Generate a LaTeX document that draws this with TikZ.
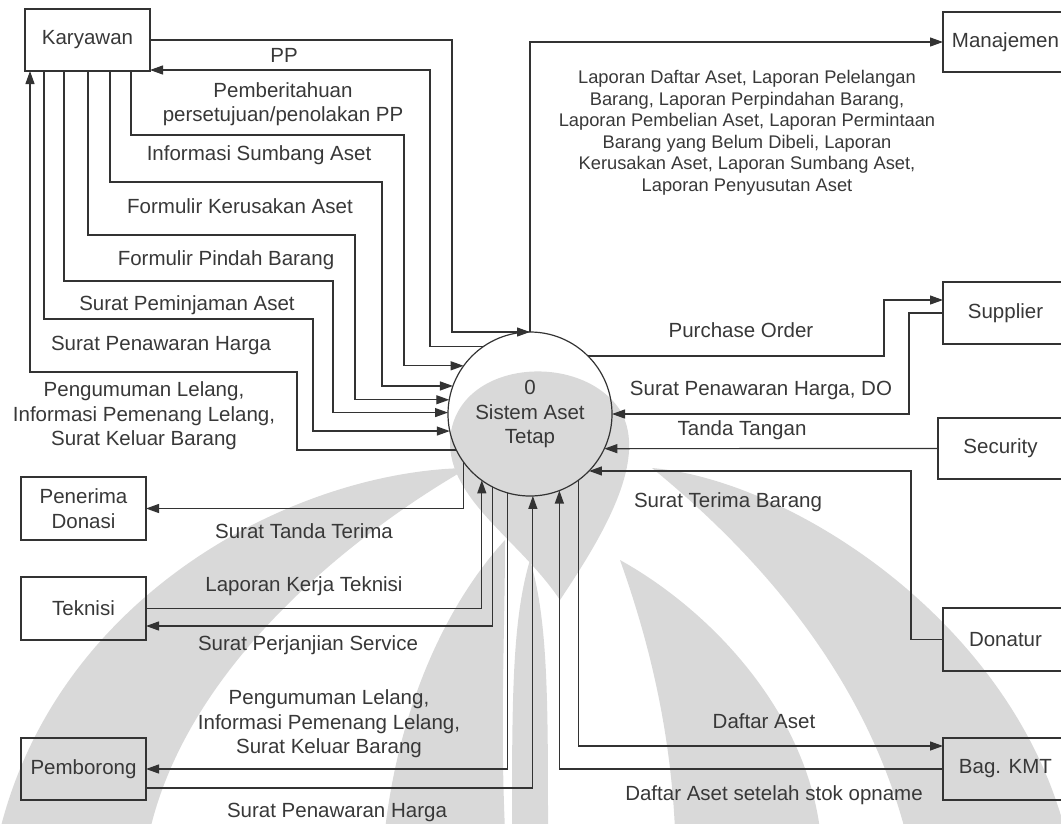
\documentclass[tikz,border=0pt]{standalone}
\usepackage{fontspec}
\setmainfont{Liberation Sans}
\usetikzlibrary{arrows.meta}
\definecolor{ink}{HTML}{333333}
\definecolor{txt}{HTML}{383838}
\definecolor{mark}{HTML}{D9D9D9}

\begin{document}
\begin{tikzpicture}[x=1pt,y=-1pt,
  every node/.style={inner sep=0pt, outer sep=0pt, text=txt},
  big/.style={font=\fontsize{20.5}{24.5}\selectfont, align=center},
  lbl/.style={big, text height=14.7pt, text depth=4.3pt},
  mlbl/.style={big},
  smalllbl/.style={font=\fontsize{18.3}{21.5}\selectfont, align=center},
  entity/.style={draw=ink, line width=1.2pt, minimum width=125pt,
    minimum height=62pt, big},
  proc/.style={circle, draw=ink, line width=1.2pt, minimum size=164pt, big},
  flow/.style={draw=ink, line width=1.2pt,
    -{Triangle[length=13pt,width=9pt]}},
  watermark/.style={fill=mark, draw=none},
]
\useasboundingbox (0,0) rectangle (1061,823);

% light background emblem
\begin{scope}
  \clip (0,0) rectangle (1061,823);
  \fill[watermark] (450,440) .. controls (455,360) and (580,350) .. (620,410)
    .. controls (650,460) and (600,540) .. (560,600)
    .. controls (520,540) and (448,500) .. (450,440) -- cycle;
  \fill[watermark] (530,560) .. controls (548,620) and (548,700) .. (548,830)
    -- (512,830) .. controls (512,700) and (512,620) .. (530,560) -- cycle;
  \fill[watermark] (468,468) .. controls (300,470) and (60,590) .. (0,830)
    -- (150,830) .. controls (190,660) and (360,530) .. (468,468) -- cycle;
  \fill[watermark] (505,540) .. controls (450,600) and (400,700) .. (385,830)
    -- (505,830) .. controls (500,720) and (505,630) .. (505,540) -- cycle;
  \fill[watermark] (652,468) .. controls (790,480) and (1010,620) .. (1065,830)
    -- (905,830) .. controls (860,660) and (740,540) .. (652,468) -- cycle;
  \fill[watermark] (620,560) .. controls (710,610) and (805,710) .. (820,830)
    -- (675,830) .. controls (670,720) and (645,630) .. (620,560) -- cycle;
\end{scope}

% external entities
\node[entity] (kar) at (87.5,40)    {Karyawan};
\node[entity, minimum height=63pt] (pen) at (83.5,508.5) {Penerima\\Donasi};
\node[entity, minimum height=63pt] (tek) at (83.5,608.5) {Teknisi};
\node[entity] (pem) at (83.5,769)   {Pemborong};
\node[entity, minimum height=60pt] (man) at (1005.5,42) {Manajemen};
\node[entity] (sup) at (1005.5,313) {Supplier};
\node[entity, minimum height=61pt] (sec) at (1000.5,448.5) {Security};
\node[entity, minimum height=63pt] (don) at (1005.5,639.5) {Donatur};
\node[entity] (kmt) at (1005.5,769) {Bag. KMT};

% the process
\node[proc] (sys) at (530,414) {0\\Sistem Aset\\Tetap};

% flows between Karyawan and the system
\draw[flow] (kar.east) -| (452,332) -- (sys.north);
\draw[flow] (sys.125.2) -| (430,70) -- ([yshift=-30pt]kar.east);
\draw[flow] ([xshift=43.5pt]kar.south) |- (404,135) |- (sys.144.2);
\draw[flow] ([xshift=22.5pt]kar.south) |- (382,182) |- (sys.160.8);
\draw[flow] ([xshift=0.5pt]kar.south) |- (355,235) |- (sys.170.9);
\draw[flow] ([xshift=-23.5pt]kar.south) |- (333,281) |- (sys.179.3);
\draw[flow] ([xshift=-43.5pt]kar.south) |- (313,319) |- (sys.192);
\draw[flow] (sys.206.8) -| (297,372) -| ([xshift=-57.5pt]kar.south);

% flows to the lower left entities
\draw[flow] (sys.216.4) |- (pen.east);
\draw[flow] (tek.east) -| (sys.234.2);
\draw[flow] (sys.243.2) |- ([yshift=-17.5pt]tek.east);
\draw[flow] (sys.254.4) |- (pem.east);
\draw[flow] ([yshift=-19pt]pem.east) -| (sys.272.1);

% flows to the right hand entities
\draw[flow] (sys.north) |- (man.west);
\draw[flow] (sys.45) -| (884,300) -- ([yshift=13pt]sup.west);
\draw[flow] (sup.west) -| (909,400) |- (sys.0.7);
\draw[flow] (sec.west) -- (sys.335.1);
\draw[flow] (don.west) -| (911,480) |- (sys.316);
\draw[flow] (sys.306.7) |- ([yshift=23pt]kmt.west);
\draw[flow] (kmt.west) -| (sys.291.5);

% flow labels
\node[lbl]  (lpp)  at (284,57)  {PP};
\node[mlbl] (lpem) at (283,104) {Pemberitahuan\\persetujuan/penolakan PP};
\node[lbl]  (linf) at (259,155) {Informasi Sumbang Aset};
\node[lbl]  (lker) at (240,208) {Formulir Kerusakan Aset};
\node[lbl]  (lpin) at (226,260) {Formulir Pindah Barang};
\node[lbl]  (lpmj) at (187,305) {Surat Peminjaman Aset};
\node[lbl]  (lpnw) at (161,345) {Surat Penawaran Harga};
\node[mlbl] (lpgk) at (144,416) {Pengumuman Lelang,\\Informasi Pemenang Lelang,\\Surat Keluar Barang};
\node[lbl]  (lstt) at (304,533) {Surat Tanda Terima};
\node[lbl]  (llkt) at (304,586) {Laporan Kerja Teknisi};
\node[lbl]  (lsps) at (308,645) {Surat Perjanjian Service};
\node[mlbl] (lpgp) at (329,724) {Pengumuman Lelang,\\Informasi Pemenang Lelang,\\Surat Keluar Barang};
\node[lbl]  (lspp) at (337,812) {Surat Penawaran Harga};
\node[smalllbl] (lman) at (747,133) {Laporan Daftar Aset, Laporan Pelelangan\\Barang, Laporan Perpindahan Barang,\\Laporan Pembelian Aset, Laporan Permintaan\\Barang yang Belum Dibeli, Laporan\\Kerusakan Aset, Laporan Sumbang Aset,\\Laporan Penyusutan Aset};
\node[lbl]  (lpo)  at (741,332) {Purchase Order};
\node[lbl]  (lspd) at (761,390) {Surat Penawaran Harga, DO};
\node[lbl]  (ltt)  at (742,430) {Tanda Tangan};
\node[lbl]  (lstb) at (728,502) {Surat Terima Barang};
\node[lbl]  (lda)  at (764,723) {Daftar Aset};
\node[lbl]  (ldas) at (774,795) {Daftar Aset setelah stok opname};
\end{tikzpicture}
\end{document}
